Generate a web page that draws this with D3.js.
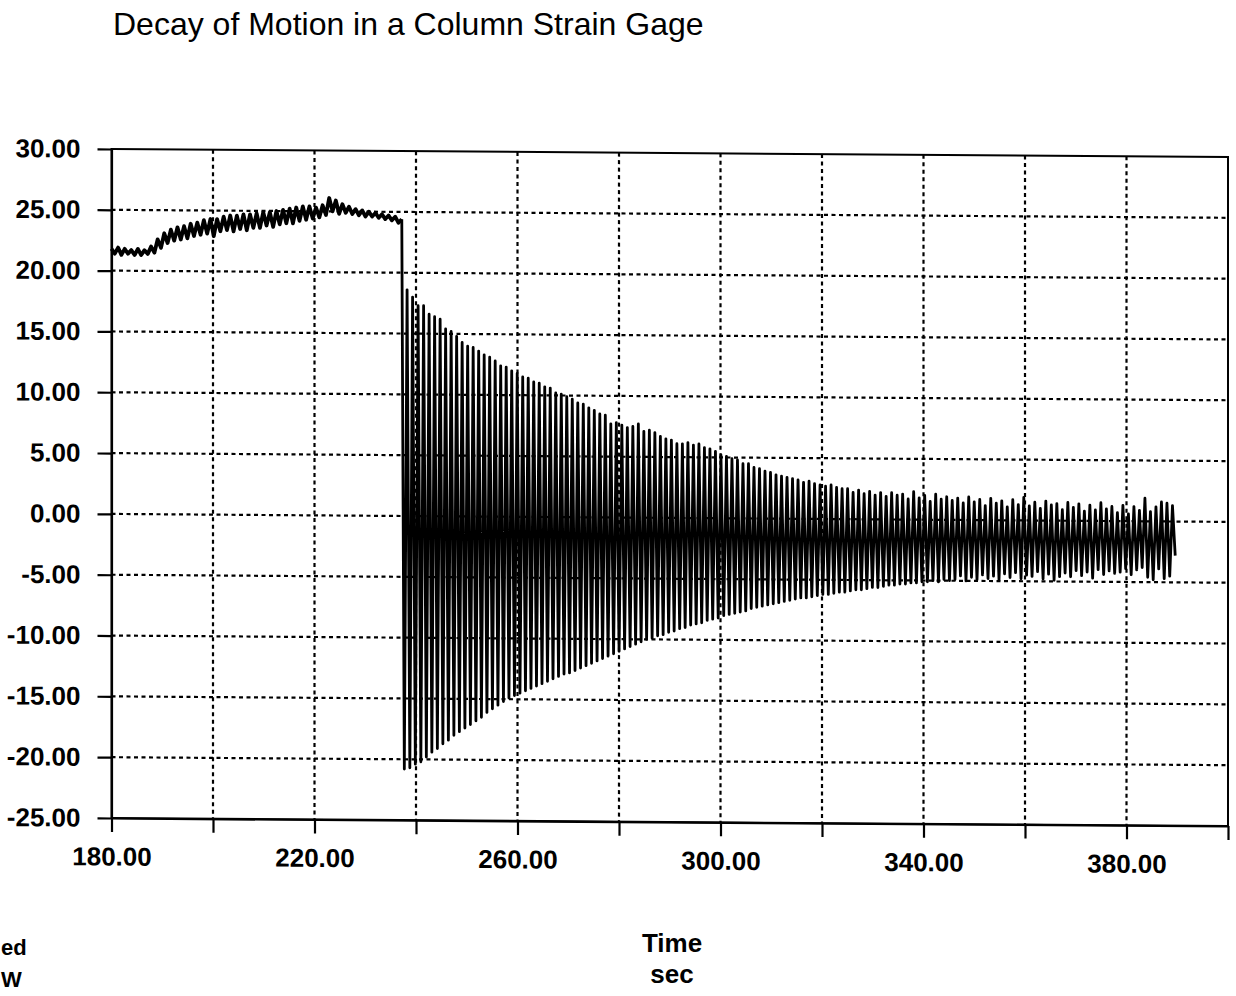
<!DOCTYPE html>
<html>
<head>
<meta charset="utf-8">
<script src="https://cdn.jsdelivr.net/npm/d3@7"></script>
<style>
body { margin: 0; background: #fff; }
text { font-family: "Liberation Sans", Arial, sans-serif; fill: #000; }
</style>
</head>
<body>
<svg></svg>
<script>
// chart texts
const title = 'Decay of Motion in a Column Strain Gage',
    xTitle = ['Time', 'sec'],
    sideLabels = ['ed', 'W'];

// axis ticks
const yTicks = [-25, -20, -15, -10, -5, 0, 5, 10, 15, 20, 25, 30],
    xTicks = [180, 200, 220, 240, 260, 280, 300, 320, 340, 360, 380, 400],
    xLabels = [180, 220, 260, 300, 340, 380];

// steady part before release, sampled every 0.65 sec (ripple high / low)
const preStart = 180,
    preStep = 0.65;
const preValues = [
    21.8, 21.4, 21.9, 21.3, 21.8, 21.4, 21.7, 21.3, 21.8, 21.3,
    21.7, 21.4, 22.0, 21.5, 22.6, 21.9, 23.1, 22.3, 23.4, 22.5,
    23.6, 22.6, 23.7, 22.7, 23.9, 22.9, 24.0, 23.0, 24.2, 23.1,
    24.3, 22.9, 24.3, 23.3, 24.5, 23.4, 24.6, 23.3, 24.6, 23.5,
    24.7, 23.4, 24.7, 23.6, 24.8, 23.6, 24.9, 23.8, 24.9, 23.7,
    25.0, 23.9, 25.1, 24.0, 25.2, 24.0, 25.3, 24.2, 25.4, 24.3,
    25.4, 24.4, 25.3, 24.5, 25.5, 24.7, 26.1, 25.0, 25.9, 24.8,
    25.6, 24.9, 25.4, 24.8, 25.2, 24.7, 25.1, 24.6, 25.0, 24.6,
    24.9, 24.5, 24.8, 24.4, 24.7, 24.3, 24.6, 24.1, 24.4
];

// free vibration after release: one trough and one peak per cycle
const oscStart = 237.7,
    oscPeriod = 1.085;
const oscTroughs = [
    -20.8, -20.7, -20.4, -20.2, -19.8, -19.4, -19.1, -18.7, -18.4, -18.0,
    -17.7, -17.4, -17.1, -16.8, -16.5, -16.1, -15.8, -15.5, -15.2, -14.9,
    -14.7, -14.5, -14.3, -14.1, -13.9, -13.7, -13.5, -13.3, -13.1, -12.9,
    -12.8, -12.6, -12.4, -12.2, -12.0, -11.8, -11.6, -11.4, -11.2, -11.0,
    -10.8, -10.6, -10.4, -10.2, -10.0, -9.9, -9.7, -9.6, -9.4, -9.3,
    -9.1, -9.0, -8.8, -8.7, -8.6, -8.4, -8.3, -8.2, -8.0, -7.9,
    -7.8, -7.7, -7.6, -7.4, -7.3, -7.2, -7.1, -7.0, -6.9, -6.8,
    -6.7, -6.6, -6.5, -6.5, -6.4, -6.3, -6.2, -6.2, -6.1, -6.0,
    -6.0, -5.9, -5.8, -5.8, -5.7, -5.6, -5.6, -5.5, -5.4, -5.4,
    -5.3, -5.3, -5.2, -5.2, -5.1, -5.1, -5.0, -5.1, -4.9, -5.0,
    -4.9, -4.6, -5.0, -4.7, -4.9, -4.5, -4.8, -4.6, -4.9, -4.4,
    -4.7, -4.3, -4.8, -4.5, -4.6, -4.2, -4.8, -4.4, -4.9, -4.6,
    -4.3, -4.6, -4.1, -4.5, -4.2, -4.7, -4.0, -4.4, -4.1, -4.3,
    -4.2, -3.9, -4.4, -4.0, -3.8, -4.6, -4.8, -3.9, -4.7, -4.5,
    -2.8
];
const oscPeaks = [
    18.6, 18.0, 17.3, 17.3, 16.6, 16.4, 16.2, 15.4, 15.2, 14.8,
    14.3, 14.0, 13.9, 13.6, 13.3, 13.1, 12.8, 12.4, 12.3, 12.0,
    11.8, 11.5, 11.4, 11.1, 11.0, 10.7, 10.6, 10.2, 10.1, 9.9,
    9.7, 9.4, 9.3, 9.0, 8.8, 8.5, 8.4, 7.7, 7.8, 7.6,
    7.4, 7.5, 7.7, 7.1, 7.2, 7.0, 6.7, 6.5, 6.4, 6.1,
    6.1, 6.2, 6.0, 6.1, 5.8, 5.7, 5.5, 5.2, 5.1, 4.9,
    4.8, 4.5, 4.5, 4.2, 4.1, 3.9, 3.8, 3.6, 3.5, 3.4,
    3.3, 3.2, 3.0, 3.1, 2.9, 2.8, 2.7, 2.8, 2.6, 2.5,
    2.5, 2.2, 2.4, 2.1, 2.3, 2.0, 2.2, 1.9, 2.2, 2.0,
    2.1, 1.7, 2.3, 1.8, 2.0, 1.5, 2.1, 1.7, 1.9, 1.6,
    1.8, 1.4, 1.9, 1.5, 1.7, 1.2, 1.8, 1.4, 1.6, 1.1,
    1.7, 1.3, 1.9, 1.2, 1.5, 1.0, 1.6, 1.3, 1.4, 0.9,
    1.5, 1.1, 1.4, 0.8, 1.3, 0.9, 1.5, 1.0, 1.2, 0.7,
    1.3, 0.6, 1.2, 0.9, 1.9, 0.8, 1.2, 1.6, 1.5, 1.3
];

const svg = d3.select('svg')
    .attr('width', 1236)
    .attr('height', 996);

// plot box on the page
const plotLeft = 111.5,
    plotTop = 149,
    plotW = 1116.5,
    plotH = 669,
// the scanned page is slightly sheared
    shear = 0.41;

const x = d3.scaleLinear().domain([180, 400]).range([0, plotW]),
    y = d3.scaleLinear().domain([-25, 30]).range([plotH, 0]);

// plain hyphen minus, two decimals
const fmt = d => d.toFixed(2);

svg.append('text')
    .attr('x', 113)
    .attr('y', 35)
    .attr('font-size', 32)
    .text(title);

const g = svg.append('g')
    .attr('transform', `translate(${plotLeft},${plotTop}) skewY(${shear})`);

// dashed grid
g.append('g').selectAll('line')
    .data(yTicks.filter(d => d > -25 && d < 30))
    .join('line')
    .attr('x1', 0).attr('x2', plotW)
    .attr('y1', d => y(d)).attr('y2', d => y(d))
    .attr('stroke', '#000').attr('stroke-width', 2.2)
    .attr('stroke-dasharray', '4,3.5');

g.append('g').selectAll('line')
    .data(xTicks.filter(d => d > 180 && d < 400))
    .join('line')
    .attr('x1', d => x(d)).attr('x2', d => x(d))
    .attr('y1', 0).attr('y2', plotH)
    .attr('stroke', '#000').attr('stroke-width', 2.2)
    .attr('stroke-dasharray', '4,3.5');

// border (top and right)
g.append('rect')
    .attr('width', plotW).attr('height', plotH)
    .attr('fill', 'none')
    .attr('stroke', '#000').attr('stroke-width', 2);

// axes
const yAxis = g.append('g')
    .call(d3.axisLeft(y).tickValues(yTicks).tickSize(14).tickSizeOuter(0)
        .tickPadding(17).tickFormat(fmt));

const xAxis = g.append('g')
    .attr('transform', `translate(0,${plotH})`)
    .call(d3.axisBottom(x).tickValues(xTicks).tickSize(14).tickSizeOuter(0)
        .tickPadding(15)
        .tickFormat(d => xLabels.includes(d) ? fmt(d) : ''));

[yAxis, xAxis].forEach(a => {
    a.selectAll('path, line').attr('stroke', '#000').attr('stroke-width', 2.2);
    a.selectAll('text')
        .attr('font-size', 26)
        .attr('font-weight', 'bold')
        .attr('font-family', '"Liberation Sans", Arial, sans-serif')
        .attr('fill', '#000');
});

// build the trace: slow part, then the vibration after release
const prePoints = preValues.map((v, i) => [preStart + i * preStep, v]);
const oscPoints = [prePoints[prePoints.length - 1]];
oscTroughs.forEach((v, i) => {
    oscPoints.push([oscStart + i * oscPeriod, v]);
    if (i < oscPeaks.length) oscPoints.push([oscStart + (i + 0.5) * oscPeriod, oscPeaks[i]]);
});

const line = d3.line()
    .x(d => x(d[0]))
    .y(d => y(d[1]));

g.append('path')
    .datum(prePoints)
    .attr('d', line)
    .attr('fill', 'none')
    .attr('stroke', '#000')
    .attr('stroke-width', 3.8)
    .attr('stroke-linejoin', 'round');

g.append('path')
    .datum(oscPoints)
    .attr('d', line)
    .attr('fill', 'none')
    .attr('stroke', '#000')
    .attr('stroke-width', 2.8)
    .attr('stroke-linejoin', 'round');

// axis title
svg.append('g').selectAll('text')
    .data(xTitle)
    .join('text')
    .attr('x', 672)
    .attr('y', (d, i) => 952 + i * 31)
    .attr('text-anchor', 'middle')
    .attr('font-size', 26)
    .attr('font-weight', 'bold')
    .text(d => d);

// labels at the left edge
svg.append('g').selectAll('text')
    .data(sideLabels)
    .join('text')
    .attr('x', 1)
    .attr('y', (d, i) => 955 + i * 32)
    .attr('font-size', 22)
    .attr('font-weight', 'bold')
    .text(d => d);
</script>
</body>
</html>
